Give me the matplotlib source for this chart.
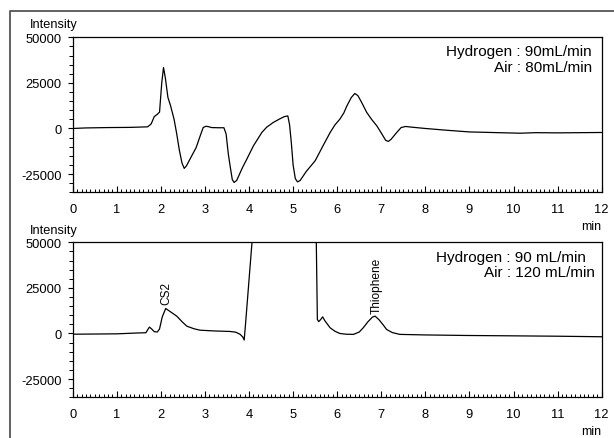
import matplotlib
matplotlib.use('Agg')
import matplotlib.pyplot as plt
from matplotlib.ticker import MultipleLocator
from matplotlib.lines import Line2D

plt.rcParams['font.family'] = ['Liberation Sans', 'DejaVu Sans']
plt.rcParams['axes.unicode_minus'] = False

# Chromatogram 1 : Hydrogen 90 mL/min, Air 80 mL/min
t_top = [0.0, 0.3, 0.8, 1.3, 1.7, 1.78, 1.85, 1.92, 1.97, 2.02, 2.06, 2.10, 2.16, 2.22, 2.30,
         2.36, 2.42, 2.48, 2.53, 2.58, 2.70, 2.80, 2.90, 2.96, 3.02, 3.08, 3.15, 3.30, 3.43,
         3.48, 3.53, 3.58, 3.62, 3.66, 3.72, 3.85, 3.95, 4.10, 4.29, 4.40, 4.55, 4.70, 4.80,
         4.88, 4.92, 4.96, 5.00, 5.05, 5.10, 5.16, 5.30, 5.50, 5.70, 5.84, 5.95, 6.06, 6.15,
         6.22, 6.32, 6.40, 6.47, 6.55, 6.67, 6.78, 6.90, 7.00, 7.10, 7.16, 7.22, 7.35, 7.45,
         7.55, 7.70, 8.00, 8.50, 9.00, 9.50, 10.15, 10.50, 11.00, 11.50, 12.0]
i_top = [0, 300, 500, 600, 900, 2500, 6500, 7800, 9000, 25000, 33400, 28000, 17000, 12500, 5000,
         -3000, -12000, -19000, -21900, -20500, -15000, -10500, -3500, 500, 1200, 1000, 500, 400, 400,
         -3000, -14000, -22000, -28000, -29600, -28500, -21500, -16800, -9500, -2200, 700, 3300, 5300, 6500,
         6900, 2000, -8000, -20000, -27500, -29300, -28500, -23500, -17700, -8500, -2200, 2000, 5100, 8500,
         12400, 17000, 19200, 18000, 14500, 8800, 5000, 1400, -2500, -6500, -7100, -6000, -2200, 500,
         1100, 700, 0, -1000, -1900, -2200, -2600, -2300, -2400, -2300, -2200]

# Chromatogram 2 : Hydrogen 90 mL/min, Air 120 mL/min (solvent peak off scale)
t_bot = [0.0, 0.5, 1.0, 1.5, 1.66, 1.70, 1.74, 1.79, 1.85, 1.92, 1.97, 2.03, 2.11, 2.20, 2.36,
         2.50, 2.59, 2.75, 2.89, 3.20, 3.57, 3.70, 3.80, 3.86, 3.89, 3.92, 4.10, 5.52, 5.55,
         5.58, 5.62, 5.67, 5.72, 5.84, 5.95, 6.06, 6.20, 6.37, 6.50, 6.59, 6.70, 6.80, 6.86,
         6.95, 7.05, 7.12, 7.25, 7.42, 8.00, 8.94, 10.0, 11.0, 12.0]
i_bot = [-400, -300, -200, 300, 400, 2000, 3500, 2500, 1000, 800, 2500, 9000, 13700, 12200, 9500,
         6000, 4000, 2600, 1800, 1400, 1100, 700, -500, -2000, -3600, 5000, 60000, 60000, 7700,
         6500, 7500, 9100, 7000, 3100, 1200, 0, -400, -500, 800, 3100, 6500, 9000, 9500,
         7500, 4500, 2200, 500, -500, -800, -1100, -1300, -1500, -1800]

peak_names = ['CS2', 'Thiophene']
peak_t = [2.13, 6.9]
peak_i = [15900, 11300]

top_text = ['Hydrogen : 90mL/min', 'Air : 80mL/min']
bot_text = ['Hydrogen : 90 mL/min', 'Air : 120 mL/min']

W, H = 614, 439
fig = plt.figure(figsize=(W / 100, H / 100), dpi=100)

# axes placed in pixels of the reference (both panels the same size)
ax1 = fig.add_axes([72.7 / W, 1 - 193.3 / H, 529 / W, 155 / H])
ax2 = fig.add_axes([72.7 / W, 1 - 398.3 / H, 529 / W, 155 / H])

# outer frame (only top and left visible)
fig.add_artist(Line2D([10 / W, 10 / W, 1.0], [0.0, 1 - 11.5 / H, 1 - 11.5 / H],
                      transform=fig.transFigure, color='#555555', lw=1.3))

for ax, t, i, int_dy in [(ax1, t_top, i_top, 13), (ax2, t_bot, i_bot, 12.3)]:
    ax.plot(t, i, color='black', lw=0.9)
    ax.set_xlim(0, 12)
    ax.set_ylim(-35000, 50000)
    ax.xaxis.set_major_locator(MultipleLocator(1))
    ax.xaxis.set_minor_locator(MultipleLocator(0.1))
    ax.yaxis.set_minor_locator(MultipleLocator(5000))
    ax.set_yticks([-25000, 0, 25000, 50000])
    ax.set_yticklabels(['-25000', '0', '25000', '50000'])
    ax.tick_params(axis='x', which='major', direction='in', length=4, width=0.8,
                   labelsize=9.3, pad=7.5, top=False)
    ax.tick_params(axis='x', which='minor', direction='in', length=2, width=0.7, top=False)
    ax.tick_params(axis='y', which='major', direction='out', length=3.6, width=0.8,
                   labelsize=9.3, pad=4.5, right=False)
    ax.tick_params(axis='y', which='minor', direction='out', length=3, width=0.7, right=False)
    for s in ax.spines.values():
        s.set_linewidth(0.9)
    ax.text((30 - 72.7) / 529, 1 + int_dy / 155, 'Intensity', transform=ax.transAxes,
            fontsize=9.2, ha='left', va='center')
    ax.text(1.0, -34 / 155, 'min', transform=ax.transAxes, fontsize=9,
            ha='right', va='center')

# gas flow conditions
ax1.text((592 - 72.7) / 529, 1 - 13.7 / 155, top_text[0], transform=ax1.transAxes,
         fontsize=11, ha='right', va='center')
ax1.text((592 - 72.7) / 529, 1 - 29.7 / 155, top_text[1], transform=ax1.transAxes,
         fontsize=11, ha='right', va='center')
ax2.text((586 - 72.7) / 529, 1 - 14.4 / 155, bot_text[0], transform=ax2.transAxes,
         fontsize=11, ha='right', va='center')
ax2.text((595 - 72.7) / 529, 1 - 30 / 155, bot_text[1], transform=ax2.transAxes,
         fontsize=11, ha='right', va='center')

# peak labels
for name, x, y in zip(peak_names, peak_t, peak_i):
    ax2.text(x, y, name, rotation=90, fontsize=8.6, ha='center', va='bottom')

fig.savefig('out.png', dpi=100)
